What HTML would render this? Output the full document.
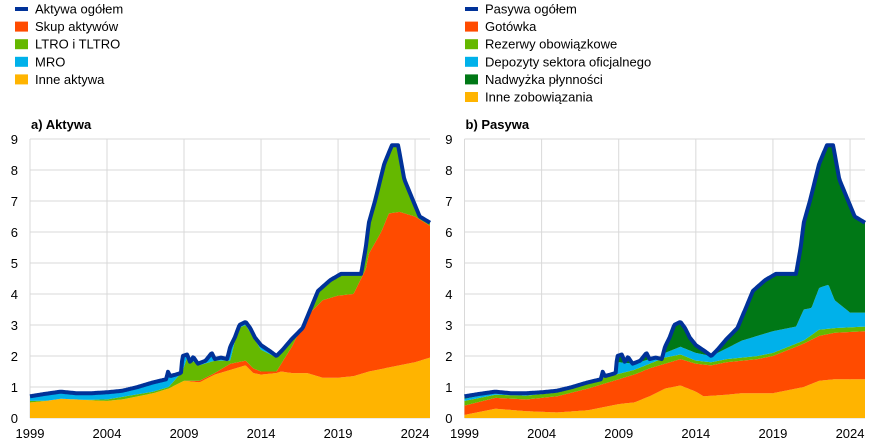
<!DOCTYPE html>
<html><head><meta charset="utf-8"><style>
body{margin:0;background:#fff;font-family:"Liberation Sans",Arial,sans-serif;}
svg{display:block}
</style></head><body>
<svg id="s" width="871" height="444" xmlns="http://www.w3.org/2000/svg" font-family="Liberation Sans, Arial, sans-serif"></svg>
<script>
const S=document.getElementById('s');
let h='';
// legends
const L1=[['Aktywa ogółem','#003299',1],['Skup aktywów','#ff4b00'],['LTRO i TLTRO','#65b800'],['MRO','#00b1ea'],['Inne aktywa','#ffb400']];
const L2=[['Pasywa ogółem','#003299',1],['Gotówka','#ff4b00'],['Rezerwy obowiązkowe','#65b800'],['Depozyty sektora oficjalnego','#00b1ea'],['Nadwyżka płynności','#007816'],['Inne zobowiązania','#ffb400']];
function leg(L,x){L.forEach((e,i)=>{const y=9+i*17.6;
 if(e[2])h+=`<rect x="${x}" y="${y-2}" width="13" height="4" fill="${e[1]}"/>`;else h+=`<rect x="${x}" y="${y-5}" width="13" height="10" fill="${e[1]}"/>`;
 h+=`<text x="${x+20}" y="${y+4.5}" font-size="13" fill="#000">${e[0]}</text>`;});}
leg(L1,15);leg(L2,465);
function interp(P,t){if(t<=P[0][0])return P[0][1];for(let i=1;i<P.length;i++){if(t<=P[i][0]){const a=P[i-1],b=P[i];return a[1]+(b[1]-a[1])*(t-a[0])/(b[0]-a[0]);}}return P[P.length-1][1];}
const TOT=[[1999,0.7],[2000,0.78],[2001,0.85],[2002,0.8],[2003,0.8],[2004,0.83],[2005,0.88],[2006,1.0],[2007,1.15],[2007.85,1.25],[2007.95,1.5],[2008.1,1.35],[2008.8,1.45],[2008.9,2.0],[2009.2,2.05],[2009.4,1.8],[2009.6,1.97],[2009.9,1.75],[2010.4,1.85],[2010.8,2.1],[2011,1.9],[2011.4,1.95],[2011.8,1.9],[2012,2.3],[2012.3,2.6],[2012.6,3.0],[2013,3.1],[2013.3,2.9],[2013.6,2.6],[2014,2.35],[2014.6,2.15],[2015,2.0],[2015.4,2.2],[2016,2.55],[2016.7,2.9],[2017.2,3.5],[2017.7,4.1],[2018.5,4.45],[2019.2,4.65],[2020,4.65],[2020.5,4.65],[2020.8,5.5],[2021,6.3],[2021.4,7.0],[2022,8.2],[2022.5,8.8],[2022.9,8.8],[2023.3,7.7],[2023.8,7.1],[2024.3,6.5],[2024.97,6.3]];
const A_Y=[[1999,0.5],[2000,0.55],[2001,0.62],[2002,0.6],[2003,0.57],[2004,0.55],[2005,0.6],[2006,0.7],[2007,0.8],[2008,0.95],[2009,1.2],[2010,1.15],[2011,1.4],[2012,1.55],[2013,1.7],[2013.5,1.45],[2014,1.4],[2015,1.45],[2015.3,1.5],[2016,1.45],[2017,1.45],[2018,1.3],[2019,1.3],[2020,1.35],[2021,1.5],[2022,1.6],[2023,1.7],[2024,1.8],[2024.97,1.95]];
const A_O=[[1999,0.5],[2000,0.55],[2001,0.62],[2002,0.6],[2003,0.57],[2004,0.55],[2005,0.6],[2006,0.7],[2007,0.8],[2008,0.95],[2009,1.2],[2010,1.2],[2011,1.45],[2012,1.75],[2013,1.85],[2013.5,1.6],[2014,1.5],[2015,1.5],[2015.5,1.9],[2016,2.3],[2017,3.3],[2018,3.8],[2019,3.95],[2020,4.0],[2020.8,4.8],[2021,5.3],[2021.8,6.0],[2022.3,6.6],[2023,6.65],[2024,6.5],[2024.97,6.2]];
const A_G=[[1999,0.55],[2004,0.6],[2007,0.85],[2008,1.0],[2008.9,1.5],[2009.2,1.95],[2010,1.7],[2011,1.85],[2012,1.85],[2012.5,2.9],[2013,3.0],[2014,2.2],[2015,1.95],[2015.5,2.3],[2016,9],[2025,9]];
const P_Y=[[1999,0.1],[2001,0.3],[2003,0.22],[2005,0.18],[2007,0.25],[2008,0.35],[2009,0.45],[2010,0.5],[2011,0.7],[2012,0.95],[2013,1.05],[2014,0.85],[2014.5,0.7],[2016,0.75],[2017,0.8],[2019,0.8],[2021,1.0],[2022,1.2],[2023,1.25],[2024.97,1.25]];
const P_O=[[1999,0.4],[2001,0.65],[2003,0.6],[2005,0.7],[2007,0.95],[2008,1.1],[2009,1.25],[2010,1.4],[2011,1.6],[2012,1.75],[2013,1.9],[2014,1.75],[2015,1.7],[2016,1.8],[2018,1.9],[2019,2.0],[2020,2.2],[2021,2.4],[2022,2.65],[2023,2.75],[2024.97,2.8]];
const P_R=[[1999,0.55],[2001,0.75],[2003,0.72],[2005,0.82],[2007,1.1],[2008,1.3],[2010,1.55],[2012,1.95],[2013,2.05],[2014,1.85],[2015,1.8],[2016,1.9],[2018,2.0],[2019,2.1],[2020,2.3],[2021,2.5],[2022,2.85],[2023,2.9],[2024.97,2.95]];
const P_D=[[1999,0.62],[2001,0.82],[2003,0.78],[2005,0.88],[2007,1.15],[2008.8,1.45],[2009,1.8],[2010,1.75],[2011,1.9],[2012,2.1],[2013,2.3],[2014,2.1],[2015,2.0],[2016,2.25],[2017,2.5],[2018,2.65],[2019,2.8],[2020,2.9],[2020.5,2.95],[2021,3.5],[2021.5,3.55],[2022,4.2],[2022.6,4.3],[2023,3.8],[2023.5,3.6],[2024,3.4],[2024.97,3.4]];
function chart(x0,x1,title,layers){
 const y0=418,py=31,t0=1999,t1=2024.97,X=t=>x0+(t-t0)*(x1-x0)/(t1-t0);
 const pyr=(x1-x0)/(t1-t0);
 for(let v=0;v<=9;v++){const y=y0-v*py;h+=`<line x1="${x0}" x2="${x1}" y1="${y}" y2="${y}" stroke="#d9d9d9"/>`;h+=`<text x="${x0-12}" y="${y+5}" font-size="13" text-anchor="end">${v}</text>`;}
 for(let yr=1999;yr<=2024;yr+=5){const x=X(yr);h+=`<line x1="${x}" x2="${x}" y1="${y0-9*py}" y2="${y0}" stroke="#d9d9d9"/>`;h+=`<text x="${x}" y="438" font-size="13" text-anchor="middle">${yr}</text>`;}
 h+=`<text x="${x0+1}" y="129" font-size="13" font-weight="bold">${title}</text>`;
 const N=400,ts=[];for(let i=0;i<=N;i++)ts.push(t0+(t1-t0)*i/N);
 let prev=ts.map(()=>0);
 layers.forEach(([P,c])=>{const top=ts.map((t,i)=>{let v=P?interp(P,t):9;v=Math.min(v,interp(TOT,t));return Math.max(v,prev[i]);});
  let d='M'+ts.map((t,i)=>`${X(t).toFixed(1)},${(y0-top[i]*py).toFixed(1)}`).join('L');
  for(let i=N;i>=0;i--)d+=`L${X(ts[i]).toFixed(1)},${(y0-prev[i]*py).toFixed(1)}`;
  h+=`<path d="${d}Z" fill="${c}"/>`;prev=top;});
 h+=`<path d="M${ts.map(t=>`${X(t).toFixed(1)},${(y0-interp(TOT,t)*py).toFixed(1)}`).join('L')}" fill="none" stroke="#003299" stroke-width="4" stroke-linejoin="round"/>`;
}
chart(30,430,'a) Aktywa',[[A_Y,'#ffb400'],[A_O,'#ff4b00'],[A_G,'#65b800'],[null,'#00b1ea']]);
chart(464.5,865,'b) Pasywa',[[P_Y,'#ffb400'],[P_O,'#ff4b00'],[P_R,'#65b800'],[P_D,'#00b1ea'],[null,'#007816']]);
S.innerHTML=h;
</script>
</body></html>
